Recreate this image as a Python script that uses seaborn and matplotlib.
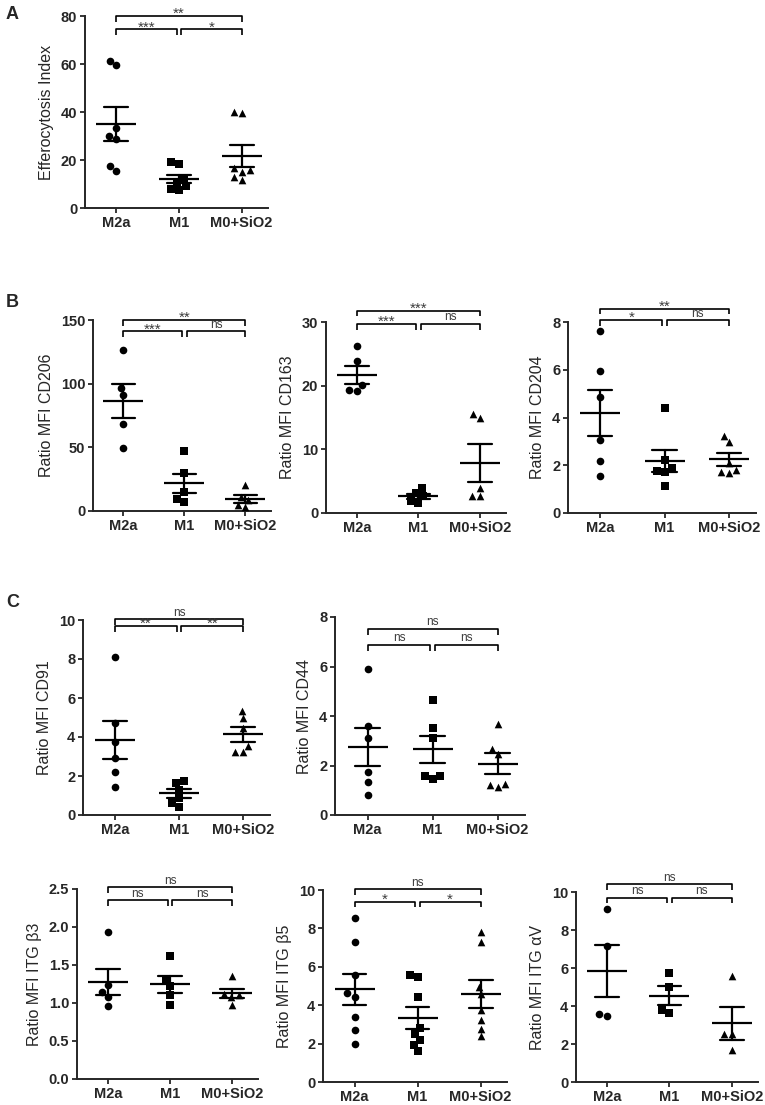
import numpy as np
import pandas as pd
import matplotlib
matplotlib.use('Agg')
import matplotlib.pyplot as plt
import seaborn as sns

# ----- data -----
groups = ['M2a', 'M1', 'M0+SiO2']
group_markers = ['o', 's', '^']

effero_m2a = [61.2, 59.5, 33.5, 29.8, 28.7, 15.5, 17.3]
effero_m1 = [18.3, 19.1, 12.2, 9.0, 7.6, 8.0, 10.7]
effero_m0 = [39.5, 40.1, 15.2, 16.6, 15.9, 11.8, 13.1]

cd206_m2a = [126.4, 96.9, 91.1, 68.1, 49.7]
cd206_m1 = [47.4, 29.6, 15.2, 7.3, 9.4]
cd206_m0 = [20.4, 11.2, 8.6, 4.7, 2.9]

cd163_m2a = [26.3, 23.8, 20.1, 19.2, 19.3]
cd163_m1 = [3.9, 3.2, 2.6, 1.6, 1.9]
cd163_m0 = [15.5, 14.9, 3.9, 2.6, 2.6]

cd204_m2a = [7.61, 5.95, 4.84, 3.06, 2.16, 1.53]
cd204_m1 = [4.40, 2.23, 1.77, 1.88, 1.72, 1.15]
cd204_m0 = [2.99, 3.23, 2.09, 1.81, 1.67, 1.70]

cd91_m2a = [8.12, 4.74, 3.73, 2.91, 2.19, 1.45]
cd91_m1 = [1.66, 1.76, 1.30, 0.43, 0.62, 0.88]
cd91_m0 = [4.96, 5.35, 4.44, 3.56, 3.25, 3.25]

cd44_m2a = [5.91, 3.60, 3.12, 1.72, 1.34, 0.81]
cd44_m1 = [4.65, 3.53, 3.10, 1.59, 1.44, 1.58]
cd44_m0 = [3.68, 2.68, 2.45, 1.25, 1.14, 1.21]

itgb3_m2a = [1.93, 1.24, 1.14, 1.08, 0.96]
itgb3_m1 = [1.62, 1.31, 1.22, 1.10, 0.98]
itgb3_m0 = [1.35, 1.12, 1.10, 1.08, 0.98]

itgb5_m2a = [8.56, 7.31, 5.58, 4.63, 4.45, 3.38, 2.69, 1.99]
itgb5_m1 = [5.49, 5.58, 4.45, 2.81, 2.50, 2.20, 1.59, 1.94]
itgb5_m0 = [7.80, 7.28, 4.97, 4.58, 3.73, 3.24, 2.77, 2.37]

itgav_m2a = [9.09, 7.15, 3.50, 3.58]
itgav_m1 = [5.72, 4.98, 3.65, 3.79]
itgav_m0 = [5.59, 2.53, 2.53, 1.70]

# significance labels: (M2a vs M1, M1 vs M0+SiO2, M2a vs M0+SiO2)
sig_effero = ['***', '*', '**']
sig_cd206 = ['***', 'ns', '**']
sig_cd163 = ['***', 'ns', '***']
sig_cd204 = ['*', 'ns', '**']
sig_cd91 = ['**', '**', 'ns']
sig_cd44 = ['ns', 'ns', 'ns']
sig_itgb3 = ['ns', 'ns', 'ns']
sig_itgb5 = ['*', '*', 'ns']
sig_itgav = ['ns', 'ns', 'ns']

# ----- layout -----
W, H = 765, 1105
panels = [
    # ylabel, data, yticks, sig, box px (left, top, right, bottom), bracket levels, letter
    dict(ylabel='Efferocytosis Index', data=(effero_m2a, effero_m1, effero_m0),
         yticks=[0, 20, 40, 60, 80], sig=sig_effero, box=(85, 16, 268, 208),
         levels=(0.93, 1.0), letter='A'),
    dict(ylabel='Ratio MFI CD206', data=(cd206_m2a, cd206_m1, cd206_m0),
         yticks=[0, 50, 100, 150], sig=sig_cd206, box=(93, 320, 271, 511),
         levels=(0.94, 1.0), letter='B'),
    dict(ylabel='Ratio MFI CD163', data=(cd163_m2a, cd163_m1, cd163_m0),
         yticks=[0, 10, 20, 30], sig=sig_cd163, box=(326, 322, 506, 513),
         levels=(0.99, 1.06), letter=None),
    dict(ylabel='Ratio MFI CD204', data=(cd204_m2a, cd204_m1, cd204_m0),
         yticks=[0, 2, 4, 6, 8], sig=sig_cd204, box=(568, 322, 756, 513),
         levels=(1.01, 1.07), letter=None),
    dict(ylabel='Ratio MFI CD91', data=(cd91_m2a, cd91_m1, cd91_m0),
         yticks=[0, 2, 4, 6, 8, 10], sig=sig_cd91, box=(83, 620, 270, 815),
         levels=(0.97, 1.005), letter='C'),
    dict(ylabel='Ratio MFI CD44', data=(cd44_m2a, cd44_m1, cd44_m0),
         yticks=[0, 2, 4, 6, 8], sig=sig_cd44, box=(335, 617, 525, 815),
         levels=(0.86, 0.94), letter=None),
    dict(ylabel='Ratio MFI ITG \u03b23', data=(itgb3_m2a, itgb3_m1, itgb3_m0),
         yticks=[0.0, 0.5, 1.0, 1.5, 2.0, 2.5], sig=sig_itgb3, box=(77, 889, 258, 1079),
         levels=(0.94, 1.01), letter=None, fmt='{:.1f}'),
    dict(ylabel='Ratio MFI ITG \u03b25', data=(itgb5_m2a, itgb5_m1, itgb5_m0),
         yticks=[0, 2, 4, 6, 8, 10], sig=sig_itgb5, box=(323, 890, 507, 1082),
         levels=(0.94, 1.005), letter=None),
    dict(ylabel='Ratio MFI ITG \u03b1V', data=(itgav_m2a, itgav_m1, itgav_m0),
         yticks=[0, 2, 4, 6, 8, 10], sig=sig_itgav, box=(576, 892, 758, 1082),
         levels=(0.97, 1.04), letter=None),
]

sns.set_style('ticks')
plt.rcParams['font.family'] = ['Liberation Sans', 'DejaVu Sans']
plt.rcParams['axes.linewidth'] = 1.4


def long_df(m2a, m1, m0):
    return pd.DataFrame({
        'group': ['M2a'] * len(m2a) + ['M1'] * len(m1) + ['M0+SiO2'] * len(m0),
        'value': list(m2a) + list(m1) + list(m0),
    })


def bracket(ax, x0, x1, y, tick, label):
    ax.plot([x0, x0, x1, x1], [y - tick, y, y, y - tick], color='black', lw=1.2,
            clip_on=False, solid_capstyle='butt')
    stars = label.startswith('*')
    ax.annotate(label, ((x0 + x1) / 2, y), xytext=(0, -1.5 if stars else 2.5),
                textcoords='offset points', ha='center', va='baseline',
                fontsize=11 if stars else 8.5, color='#3c3c3c', annotation_clip=False)


fig = plt.figure(figsize=(W / 100, H / 100), dpi=100)

for p in panels:
    l, t, r, b = p['box']
    ax = fig.add_axes([l / W, 1 - b / H, (r - l) / W, (b - t) / H])
    df = long_df(*p['data'])

    for g, m in zip(groups, group_markers):
        sns.swarmplot(data=df[df.group == g], x='group', y='value', order=groups,
                      marker=m, color='black', size=5.5, ax=ax, warn_thresh=1)

    sns.pointplot(data=df, x='group', y='value', order=groups, errorbar='se',
                  capsize=0.38, linestyle='none', markers='_', markersize=29,
                  markeredgewidth=1.6, color='black', err_kws={'linewidth': 1.6}, ax=ax)

    ymax = p['yticks'][-1]
    ax.set_xlim(-0.5, 2.42)
    ax.set_ylim(0, ymax)
    ax.set_yticks(p['yticks'])
    fmt = p.get('fmt', '{:g}')
    ax.set_yticklabels([fmt.format(v) for v in p['yticks']])
    ax.set_xlabel('')
    ax.set_ylabel(p['ylabel'], fontsize=11.5, labelpad=5)
    sns.despine(ax=ax)
    ax.tick_params(axis='both', length=3.5, width=1.3, labelsize=10.5, pad=2)
    for lab in ax.get_xticklabels() + ax.get_yticklabels():
        lab.set_fontweight('bold')

    lo, hi = p['levels']
    tick = 0.03 * ymax
    bracket(ax, 0, 0.965, lo * ymax, tick, p['sig'][0])
    bracket(ax, 1.035, 2, lo * ymax, tick, p['sig'][1])
    bracket(ax, 0, 2, hi * ymax, tick, p['sig'][2])

    if p['letter']:
        fig.text(6 / W, 1 - (t - 10 if p['letter'] == 'A' else t - 26) / H, p['letter'],
                 fontsize=13, fontweight='bold', va='top', ha='left')

fig.savefig('out.png', dpi=100)
